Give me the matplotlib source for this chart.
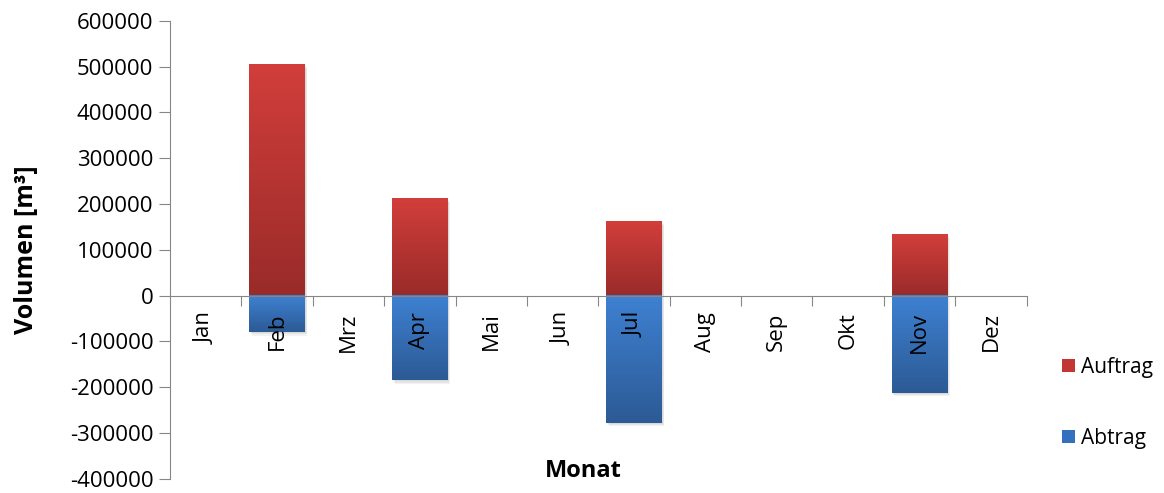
import numpy as np
import matplotlib.pyplot as plt
from matplotlib.colors import LinearSegmentedColormap
from matplotlib.patches import Patch, Rectangle

# Monatliche Massenbilanz
monate = ['Jan', 'Feb', 'Mrz', 'Apr', 'Mai', 'Jun', 'Jul', 'Aug', 'Sep', 'Okt', 'Nov', 'Dez']
auftrag = [0, 505000, 0, 212000, 0, 0, 162000, 0, 0, 0, 134000, 0]
abtrag = [0, -80000, 0, -185000, 0, 0, -278000, 0, 0, 0, -213000, 0]

plt.rcParams['font.family'] = ['Open Sans', 'DejaVu Sans']
grau = '#868686'

fig = plt.figure(figsize=(11.64, 4.93), dpi=100)
ax = fig.add_axes([0.146, 0.029, 0.736, 0.929])

rot = LinearSegmentedColormap.from_list('rot', ['#d23e3b', '#992b29'])
blau = LinearSegmentedColormap.from_list('blau', ['#3e81d2', '#2c5a95'])
verlauf = np.linspace(0, 1, 256).reshape(-1, 1)

x = np.arange(len(monate))
breite = 0.78
bars_auf = ax.bar(x, auftrag, breite, color='#c0392b', zorder=2)
bars_ab = ax.bar(x, abtrag, breite, color='#3a78c2', zorder=2)

# Farbverlauf und leichter Schatten je Balken
for bars, cmap in ((bars_auf, rot), (bars_ab, blau)):
    for b in bars:
        if b.get_height() == 0:
            continue
        x0, y0 = b.get_x(), b.get_y()
        x1, y1 = x0 + b.get_width(), y0 + b.get_height()
        unten, oben = min(y0, y1), max(y0, y1)
        for k in range(1, 4):
            ax.add_patch(Rectangle((x0 + 0.012 * k, unten - 2500 * k), x1 - x0, oben - unten,
                                   color='black', alpha=0.05, lw=0, zorder=1))
        ax.imshow(verlauf, cmap=cmap, extent=(x0, x1, unten, oben),
                  aspect='auto', origin='upper', zorder=2.5)

ax.set_xlim(-0.5, 11.5)
ax.set_ylim(-400000, 600000)

# Achsen im Excel-Stil
for s in ('top', 'right'):
    ax.spines[s].set_visible(False)
ax.spines['bottom'].set_position(('data', 0))
ax.spines['bottom'].set_color(grau)
ax.spines['left'].set_color(grau)
ax.spines['bottom'].set_zorder(3)

ax.set_yticks(np.arange(-400000, 600001, 100000))
ax.set_yticklabels([str(v) for v in range(-400000, 600001, 100000)])
ax.tick_params(axis='y', length=8, color=grau, labelsize=16, pad=4)

ax.set_xticks(np.arange(0.5, 12, 1))
ax.set_xticklabels([])
ax.tick_params(axis='x', which='major', length=7, color=grau)
ax.set_xticks(x, minor=True)
ax.set_xticklabels(monate, minor=True, rotation=90, fontsize=16)
ax.tick_params(axis='x', which='minor', length=0, pad=12)
ax.xaxis.set_zorder(5)

ax.set_ylabel('Volumen [m³]', fontsize=18, fontweight='bold')
ax.yaxis.set_label_coords(-0.153, 0.5)
fig.text(0.501, 0.045, 'Monat', ha='center', va='center', fontsize=17, fontweight='bold')

handles = [Patch(facecolor='#c23634', label='Auftrag'), Patch(facecolor='#3470be', label='Abtrag')]
fig.legend(handles=handles, loc='center left', bbox_to_anchor=(0.896, 0.183), frameon=False,
           fontsize=15, handlelength=0.65, handleheight=0.65, handletextpad=0.3, labelspacing=2.4)

fig.savefig('out.png', dpi=100)
